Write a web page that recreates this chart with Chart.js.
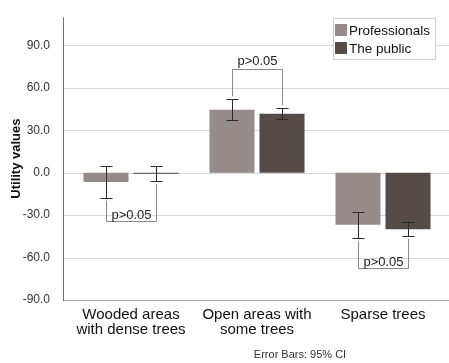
<!DOCTYPE html>
<html>
<head>
<meta charset="utf-8">
<script src="https://cdn.jsdelivr.net/npm/chart.js@4"></script>
<style>
  body { margin: 0; background: #fff; }
  #wrap { width: 449px; height: 363px; }
</style>
</head>
<body>
<div id="wrap"><canvas id="myChart" width="449" height="363"></canvas></div>
<script>
// dados
const categories = [['Wooded areas', 'with dense trees'], ['Open areas with', 'some trees'], ['Sparse trees']];
const seriesNames = ['Professionals', 'The public'];
const profMeans = [-6.6, 44.5, -36.7];
const profLow = [-17.6, 37.4, -46.3];
const profHigh = [4.5, 51.9, -27.9];
const publicMeans = [-0.7, 41.7, -39.9];
const publicLow = [-5.9, 37.8, -44.7];
const publicHigh = [4.7, 45.9, -34.8];
const yTicks = [-90, -60, -30, 0, 30, 60, 90];
const pLabels = ['p>0.05', 'p>0.05', 'p>0.05'];
const pLevels = [-34.1, 73.4, -67.2];

const FONT = "'Liberation Sans', Arial, sans-serif";
const colors = ['#968b89', '#554b47'];

// grade, eixos, barras de erro, colchetes, legenda e nota
const overlay = {
    id: 'overlay',
    beforeDatasetsDraw(chart) {
        const ctx = chart.ctx;
        const y = chart.scales.y;
        const area = chart.chartArea;
        ctx.save();
        ctx.lineWidth = 1;
        ctx.strokeStyle = '#d6d6d6';
        yTicks.forEach(v => {
            const py = Math.round(y.getPixelForValue(v)) + 0.5;
            ctx.beginPath();
            ctx.moveTo(63, py);
            ctx.lineTo(449, py);
            ctx.stroke();
        });
        ctx.strokeStyle = '#a8a8a8';
        ctx.beginPath();
        ctx.moveTo(63, area.bottom + 0.5);
        ctx.lineTo(449, area.bottom + 0.5);
        ctx.stroke();
        ctx.strokeStyle = '#707070';
        ctx.beginPath();
        ctx.moveTo(63.5, area.top);
        ctx.lineTo(63.5, area.bottom + 1);
        ctx.stroke();
        ctx.restore();
    },
    afterDatasetsDraw(chart) {
        const ctx = chart.ctx;
        const y = chart.scales.y;
        const lows = [profLow, publicLow];
        const highs = [profHigh, publicHigh];
        ctx.save();
        ctx.lineWidth = 1;
        ctx.strokeStyle = '#2a2a2a';
        [0, 1].forEach(d => {
            chart.getDatasetMeta(d).data.forEach((bar, i) => {
                const x = Math.round(bar.x) + 0.5;
                const yl = Math.round(y.getPixelForValue(lows[d][i])) + 0.5;
                const yh = Math.round(y.getPixelForValue(highs[d][i])) + 0.5;
                ctx.beginPath();
                ctx.moveTo(x, yl); ctx.lineTo(x, yh);
                ctx.moveTo(x - 6, yl); ctx.lineTo(x + 6, yl);
                ctx.moveTo(x - 6, yh); ctx.lineTo(x + 6, yh);
                ctx.stroke();
            });
        });

        // colchetes p>0.05
        ctx.strokeStyle = '#8a8a8a';
        ctx.fillStyle = '#222';
        ctx.font = '13px ' + FONT;
        ctx.textAlign = 'center';
        ctx.textBaseline = 'alphabetic';
        pLabels.forEach((txt, i) => {
            const b0 = chart.getDatasetMeta(0).data[i];
            const b1 = chart.getDatasetMeta(1).data[i];
            const x0 = Math.round(b0.x) + 0.5;
            const x1 = Math.round(b1.x) + 0.5;
            const ly = Math.round(y.getPixelForValue(pLevels[i])) + 0.5;
            const above = pLevels[i] > 0;
            const e0 = above ? y.getPixelForValue(profHigh[i]) - 3 : y.getPixelForValue(profLow[i]) + 3;
            const e1 = above ? y.getPixelForValue(publicHigh[i]) - 3 : y.getPixelForValue(publicLow[i]) + 3;
            ctx.beginPath();
            ctx.moveTo(x0, e0); ctx.lineTo(x0, ly); ctx.lineTo(x1, ly); ctx.lineTo(x1, e1);
            ctx.stroke();
            ctx.fillText(txt, (x0 + x1) / 2, above ? ly - 5 : ly - 3);
        });

        // legenda
        ctx.fillStyle = '#fff';
        ctx.fillRect(333, 18, 102, 41);
        ctx.strokeStyle = '#cfcfcf';
        ctx.strokeRect(333.5, 18.5, 102, 41);
        ctx.font = '13.5px ' + FONT;
        ctx.textAlign = 'left';
        ctx.textBaseline = 'middle';
        seriesNames.forEach((name, i) => {
            ctx.fillStyle = colors[i];
            ctx.fillRect(335, 24 + i * 18, 12, 12);
            ctx.fillStyle = '#111';
            ctx.fillText(name, 349, 31 + i * 18);
        });

        // nota
        ctx.font = '11px ' + FONT;
        ctx.fillStyle = '#333';
        ctx.textAlign = 'center';
        ctx.fillText('Error Bars: 95% CI', 300, 355);
        ctx.restore();
    }
};

const ctx = document.getElementById('myChart').getContext('2d');
const myChart = new Chart(ctx, {
    type: 'bar',
    data: {
        labels: categories,
        datasets: [
            { label: seriesNames[0], data: profMeans, backgroundColor: colors[0] },
            { label: seriesNames[1], data: publicMeans, backgroundColor: colors[1] }
        ]
    },
    options: {
        responsive: false,
        animation: false,
        categoryPercentage: 0.794,
        barPercentage: 0.9,
        layout: { padding: { top: 10, right: 3, left: 0, bottom: 0 } },
        plugins: {
            legend: { display: false },
            tooltip: { enabled: false }
        },
        scales: {
            x: {
                grid: { display: false },
                border: { display: false },
                ticks: {
                    color: '#111',
                    font: { family: FONT, size: 15, lineHeight: 1.0 },
                    padding: -1,
                    maxRotation: 0,
                    autoSkip: false
                },
                afterFit: scale => { scale.height = 63; }
            },
            y: {
                min: -90,
                max: 110,
                grid: { display: false },
                border: { display: false },
                afterBuildTicks: scale => {
                    scale.ticks = yTicks.map(v => ({ value: v }));
                },
                ticks: {
                    color: '#333',
                    font: { family: FONT, size: 12 },
                    padding: 10,
                    callback: v => Number(v).toFixed(1)
                },
                title: {
                    display: true,
                    text: 'Utility values',
                    color: '#111',
                    font: { family: FONT, size: 13, weight: 'bold' },
                    padding: { top: 9, bottom: 0 }
                },
                afterFit: scale => { scale.width = 68; }
            }
        }
    },
    plugins: [overlay]
});
</script>
</body>
</html>
